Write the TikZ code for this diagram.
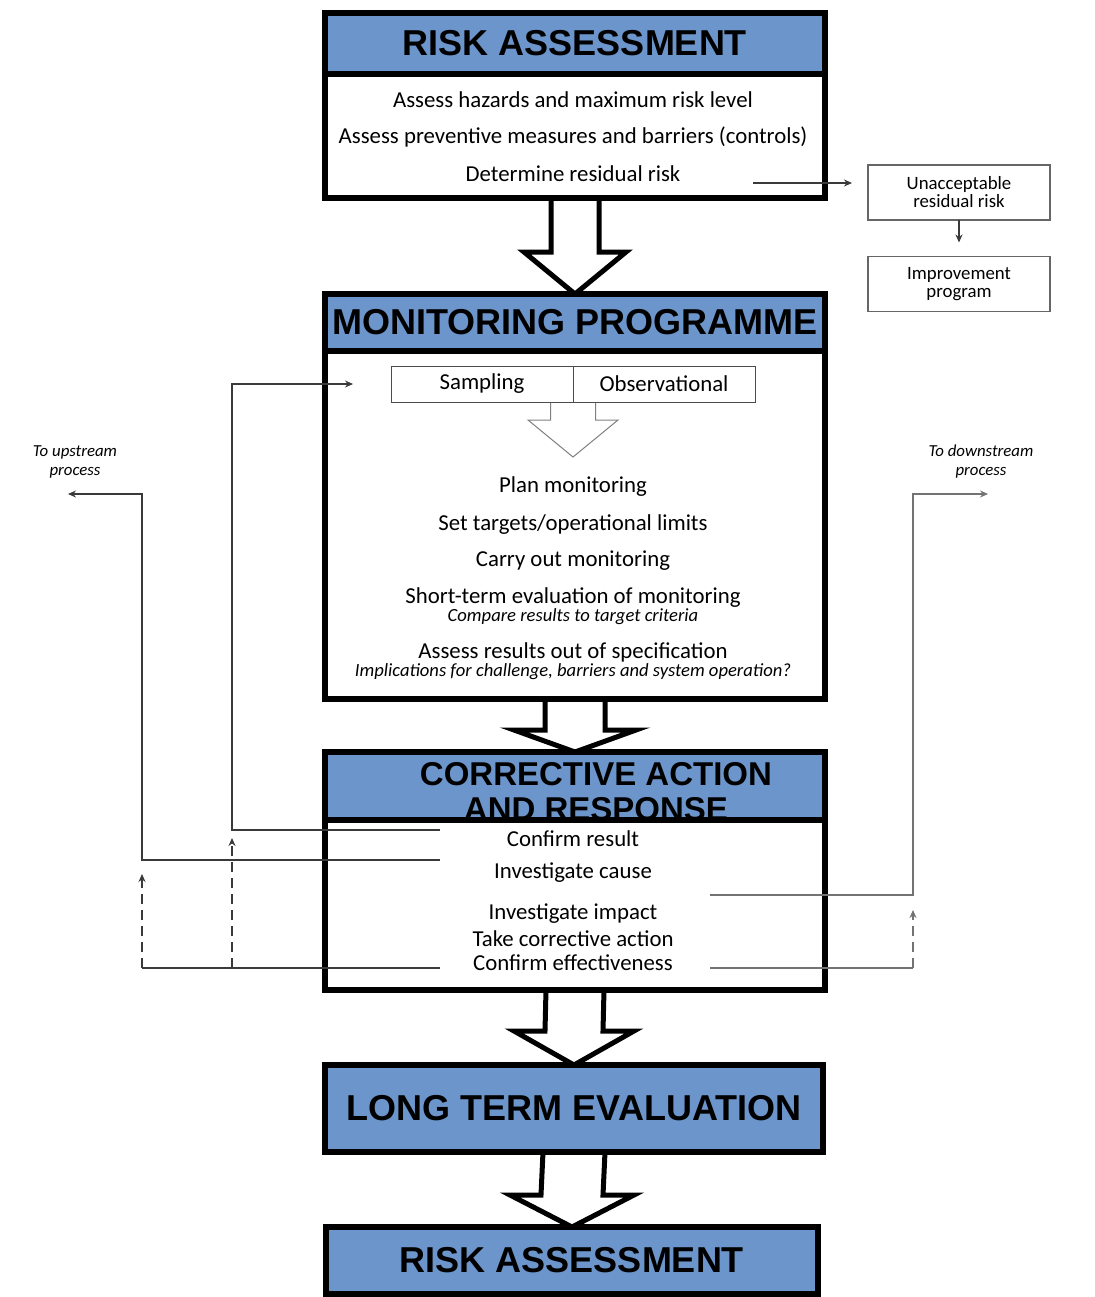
\documentclass[tikz,border=0pt]{standalone}
\usepackage{fontspec}
\setmainfont{Carlito}
\newfontfamily\headfont{Liberation Sans}
\usetikzlibrary{calc,arrows.meta,positioning,backgrounds}
\definecolor{headblue}{HTML}{6C95CB}
\definecolor{flowgray}{HTML}{3A3A3A}

% hohler Blockpfeil: [Stil]{von}{nach}{halbe Schaftbreite}{halbe Kopfbreite}{Kopflaenge}
\newcommand{\hollowarrow}[6][blockarrow]{%
	\draw[#1] ($(#2)+(-#4,0)$) -- ($(#3)+(-#4,-#6)$) -- ($(#3)+(-#5,-#6)$) -- (#3)
	-- ($(#3)+(#5,-#6)$) -- ($(#3)+(#4,-#6)$) -- ($(#2)+(#4,0)$);}

\begin{document}
\begin{tikzpicture}[
		x=0.5pt, y=-0.5pt,				% Pixelraster
		>={Stealth[length=4pt,width=3.5pt]},
		outer sep=0pt,
		heading/.style={draw, line width=3pt, fill=headblue, minimum width=250pt, inner sep=0pt, align=center,
			font=\headfont\bfseries\fontsize{18}{18}\selectfont},
		panel/.style={draw, line width=3pt, fill=white, minimum width=250pt, inner sep=0pt},
		item/.style={font=\fontsize{11.4}{13}\selectfont, inner sep=1pt},
		note/.style={font=\itshape\fontsize{9.3}{10}\selectfont, inner sep=1pt},
		method/.style={draw=black!70, thin, minimum width=91pt, minimum height=18pt, inner sep=0pt, font=\fontsize{11.4}{13}\selectfont},
		sidebox/.style={draw=black!60, thick, minimum width=91pt, minimum height=27.5pt, inner sep=0pt, align=center,
			font=\fontsize{9.4}{9}\selectfont},
		side/.style={align=center, inner sep=0pt, font=\itshape\fontsize{8.4}{9.5}\selectfont},
		flow/.style={draw=flowgray, line width=0.6pt},
		flowlight/.style={draw=black!55, line width=0.8pt},
		blockarrow/.style={draw, line width=2.5pt, fill=white, line join=miter},
		thinarrow/.style={draw=black!50, line width=0.5pt, fill=white},
	]
	\useasboundingbox (0,0) rectangle (1094,1297);

	% Risikobewertung oben
	\node[heading, minimum height=30.5pt] (ra) at (575,43.5) {RISK ASSESSMENT};
	\node[panel, minimum height=62pt, anchor=north] (rabody) at (ra.south) {};
	\node[item] (hazards) at (573,100) {Assess hazards and maximum risk level};
	\node[item] (measures) at (573,137) {Assess preventive measures and barriers (controls)};
	\node[item] (residual) at (573,174) {Determine residual risk};

	% Nebenkaesten rechts
	\node[sidebox] (unacc) at (959,192.5) {Unacceptable\\residual risk};
	\node[sidebox] (improve) at (959,284) {Improvement\\program};
	\coordinate (residualout) at (753,183);
	\draw[flow,->,shorten >=8pt] (residualout) -- (residualout -| unacc.west);
	\draw[flow,->,shorten >=7pt] (unacc.south) -- (improve.north);

	% Monitoring
	\node[heading, minimum height=28.5pt] (mp) at (575,322.5) {MONITORING PROGRAMME};
	\node[panel, minimum height=174pt, anchor=north] (mpbody) at (mp.south) {};
	\coordinate (plantip) at (573,457);
	\hollowarrow[thinarrow]{573,402}{plantip}{22.5}{45}{37}
	\node[method] (sampling) at (482,384) {Sampling};
	\node[method, right=0pt of sampling] (observ) {Observational};
	\node[item] (plan) at (573,487) {Plan monitoring};
	\node[item] (targets) at (573,525) {Set targets/operational limits};
	\node[item] (carry) at (573,561) {Carry out monitoring};
	\node[item] (shortterm) at (573,598) {Short-term evaluation of monitoring};
	\node[note] (compare) at (573,617) {Compare results to target criteria};
	\node[item] (outspec) at (573,652) {Assess results out of specification};
	\node[note] (implic) at (573,672) {Implications for challenge, barriers and system operation?};

	% Korrekturmassnahmen (Titel wird vom Rahmen unten angeschnitten)
	\node[heading, minimum height=34pt] (ca) at (575,786) {};
	\node[align=center, inner sep=0pt, font=\headfont\bfseries\fontsize{16.5}{17.5}\selectfont] (catitle) at (596,792)
		{CORRECTIVE ACTION\\AND RESPONSE};
	\node[panel, minimum height=85pt, anchor=north] (cabody) at (ca.south) {};
	\node[item] (confirm) at (573,839) {Confirm result};
	\node[item] (cause) at (573,873) {Investigate cause};
	\node[item] (impact) at (573,914) {Investigate impact};
	\node[item] (take) at (573,939) {Take corrective action};
	\node[item] (effect) at (573,963) {Confirm effectiveness};

	% Langzeitbewertung und neue Risikobewertung
	\node[heading, minimum height=43.5pt, minimum width=249pt] (lte) at (574,1108.5) {LONG TERM EVALUATION};
	\node[heading, minimum height=33.5pt, minimum width=246pt] (ranew) at (572,1260.5) {RISK ASSESSMENT};

	% Rueckfuehrungen links
	\node[side] (upstream) at (75,462) {To upstream\\process};
	\coordinate (confirmL) at (440,830);
	\coordinate (causeL) at (440,860);
	\coordinate (effectL) at (440,968);
	\coordinate (loopA) at (232,830);
	\coordinate (loopB) at (142,860);
	\coordinate (upend) at (68,494);
	\draw[flow,->,shorten >=19pt] (confirmL) -- (loopA) |- (sampling.west);
	\draw[flow,->] (causeL) -- (loopB) |- (upend);
	\draw[flow] (effectL) -- (effectL -| loopB);
	\draw[flow,dashed,dash pattern=on 5pt off 3pt,->] (effectL -| loopB) -- ($(loopB)+(0,14)$);
	\draw[flow,dashed,dash pattern=on 5pt off 3pt,->] (effectL -| loopA) -- ($(loopA)+(0,8)$);

	% Weiterleitungen rechts
	\node[side] (downstream) at (981,462) {To downstream\\process};
	\coordinate (causeR) at (710,895);
	\coordinate (effectR) at (710,968);
	\coordinate (loopC) at (913,895);
	\coordinate (downend) at (988,494);
	\draw[flowlight,->] (causeR) -- (loopC) |- (downend);
	\draw[flowlight] (effectR) -- (effectR -| loopC);
	\draw[flowlight,dashed,dash pattern=on 5pt off 3pt,->] (effectR -| loopC) -- ($(loopC)+(0,15)$);

	% Blockpfeile
	\begin{scope}[on background layer]
		\hollowarrow{rabody.south}{mp.north}{24}{51}{42}
		\hollowarrow{mpbody.south}{ca.north}{30}{61}{22}
		\hollowarrow{cabody.south}{lte.north}{29}{60}{34}
		\hollowarrow{lte.south}{ranew.north}{31}{62}{32}
	\end{scope}
\end{tikzpicture}
\end{document}
